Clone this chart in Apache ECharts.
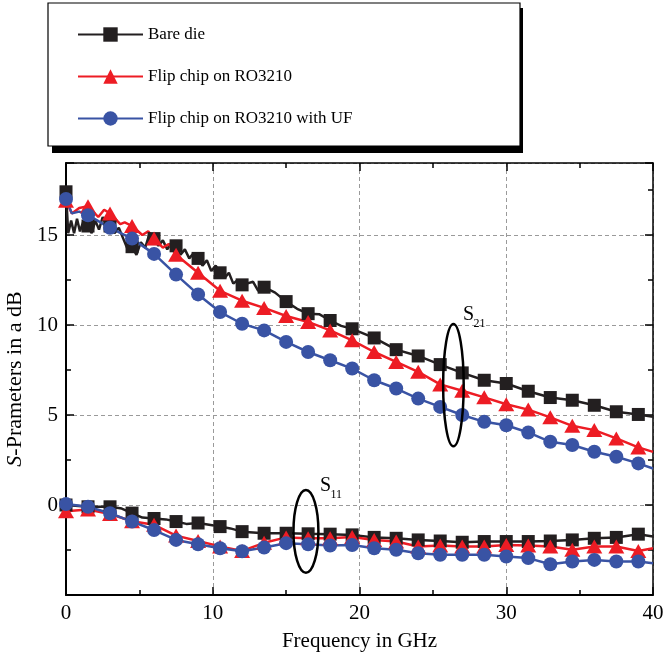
<!DOCTYPE html>
<html>
<head>
<meta charset="utf-8">
<script src="https://cdn.jsdelivr.net/npm/echarts@6/dist/echarts.min.js"></script>
<style>
  html, body { margin: 0; padding: 0; background: #fff; }
  #chart { width: 663px; height: 654px; }
</style>
</head>
<body>
<div id="chart"></div>
<script>
// S-parameter curves, markers every 1.5 GHz
var markerFreq = [0, 1.5, 3, 4.5, 6, 7.5, 9, 10.5, 12, 13.5, 15, 16.5, 18, 19.5, 21, 22.5, 24, 25.5, 27, 28.5, 30, 31.5, 33, 34.5, 36, 37.5, 39];

var bareS21 = [17.4, 15.5, 15.5, 14.35, 14.8, 14.4, 13.7, 12.9, 12.23, 12.1, 11.3, 10.63, 10.25, 9.79, 9.28, 8.63, 8.28, 7.8, 7.34, 6.93, 6.75, 6.32, 5.97, 5.82, 5.54, 5.18, 5.03];
var flipS21 = [16.9, 16.6, 16.2, 15.5, 14.8, 13.9, 12.9, 11.9, 11.35, 10.95, 10.5, 10.17, 9.7, 9.15, 8.5, 7.95, 7.4, 6.7, 6.35, 5.98, 5.6, 5.3, 4.87, 4.4, 4.16, 3.7, 3.2];
var ufS21 = [17.0, 16.1, 15.4, 14.8, 13.95, 12.8, 11.7, 10.72, 10.07, 9.7, 9.06, 8.5, 8.04, 7.58, 6.93, 6.47, 5.91, 5.45, 5.0, 4.62, 4.43, 4.03, 3.51, 3.33, 2.96, 2.68, 2.31];

var bareS11 = [0.0, -0.1, -0.1, -0.45, -0.75, -0.92, -1.0, -1.2, -1.48, -1.57, -1.57, -1.6, -1.62, -1.66, -1.8, -1.85, -1.94, -2.0, -2.07, -2.03, -2.03, -2.03, -2.0, -1.94, -1.85, -1.8, -1.62];
var flipS11 = [-0.35, -0.25, -0.5, -0.9, -1.1, -1.7, -2.0, -2.3, -2.55, -2.1, -1.8, -1.85, -1.85, -1.78, -1.94, -2.03, -2.31, -2.25, -2.31, -2.31, -2.22, -2.25, -2.31, -2.49, -2.31, -2.31, -2.55];
var ufS11 = [0.05, -0.1, -0.46, -0.92, -1.39, -1.94, -2.18, -2.4, -2.57, -2.36, -2.12, -2.18, -2.25, -2.22, -2.4, -2.49, -2.68, -2.77, -2.77, -2.77, -2.86, -2.95, -3.29, -3.14, -3.05, -3.14, -3.14];

// points between markers (ripple) and the 40 GHz end points, [GHz, dB]
var bareS21Extra = [[0.15, 15.1], [0.35, 15.8], [0.55, 15.1], [0.75, 15.9], [0.95, 15.2], [1.2, 15.8], [1.75, 15.1], [2.0, 15.8], [2.25, 15.3], [2.5, 16.0], [2.75, 15.5],
    [3.3, 15.1], [3.6, 15.4], [3.9, 14.8], [4.2, 14.2], [4.8, 13.9], [5.1, 14.6], [5.4, 14.3], [5.7, 15.1], [6.3, 14.4], [6.6, 14.7], [6.9, 14.2], [7.2, 14.6],
    [7.8, 13.9], [8.1, 14.2], [8.4, 13.7], [8.7, 14.0], [9.3, 13.3], [9.6, 13.6], [9.9, 13.0], [10.2, 13.3], [10.8, 12.6], [11.1, 12.9], [11.4, 12.3], [11.7, 12.5],
    [12.75, 12.4], [13.1, 11.9], [14.25, 11.8], [15.75, 10.9], [17.25, 10.6], [18.75, 9.95], [40, 4.9]];
var flipS21Extra = [[0.4, 16.2], [0.9, 16.5], [2.2, 16.0], [2.6, 16.4], [3.7, 15.6], [4.0, 15.7], [5.2, 15.0], [5.6, 15.2], [6.6, 14.3], [7.0, 14.5], [40, 2.95]];
var ufS21Extra = [[0.4, 16.2], [0.9, 16.3], [40, 2.03]];
var bareS11Extra = [[3.8, -0.2], [5.2, -0.7], [6.8, -0.8], [8.2, -1.05], [11.2, -1.3], [40, -1.75]];
var flipS11Extra = [[40, -2.4]];
var ufS11Extra = [[40, -3.23]];

var names = ['Bare die', 'Flip chip on RO3210', 'Flip chip on RO3210 with UF'];
var colors = ['#231f20', '#ed1c24', '#3953a4'];
var symbols = ['rect', 'triangle', 'circle'];
var symbolSizes = [13, [16, 14], 14];

var serif = '"Liberation Serif", "Times New Roman", serif';

function buildData(vals, extra) {
    var pts = markerFreq.map(function(f, i) { return [f, vals[i]]; }).concat(extra);
    pts.sort(function(a, b) { return a[0] - b[0]; });
    return pts;
}

function makeSeries(i, vals, extra) {
    return {
        name: names[i],
        type: 'line',
        data: buildData(vals, extra),
        symbol: symbols[i],
        symbolSize: function(v) { return markerFreq.indexOf(v[0]) >= 0 ? symbolSizes[i] : 0; },
        lineStyle: { color: colors[i], width: 2.5 },
        itemStyle: { color: colors[i] },
        emphasis: { disabled: true }
    };
}

var axisLine = { show: true, onZero: false, lineStyle: { color: '#000', width: 2 } };
var tickStyle = { color: '#000', width: 1.5 };
var gridLine = { show: true, lineStyle: { color: '#9a9a9a', width: 1, type: [4, 3] } };
var labelStyle = { fontFamily: serif, fontSize: 21, color: '#000' };

var chart = echarts.init(document.getElementById('chart'));

chart.setOption({
    animation: false,
    backgroundColor: '#fff',
    grid: { left: 66, right: 10, top: 163, bottom: 59, containLabel: false, outerBoundsMode: 'none' },
    legend: {
        orient: 'vertical',
        left: 77,
        top: 26,
        padding: 0,
        z: 10,
        itemWidth: 65,
        itemHeight: 18,
        itemGap: 25,
        selectedMode: false,
        textStyle: { fontFamily: serif, fontSize: 17, color: '#000' },
        data: names
    },
    xAxis: [{
        type: 'value', min: 0, max: 40, interval: 10, position: 'bottom',
        name: 'Frequency in GHz', nameLocation: 'middle', nameGap: 36,
        nameTextStyle: labelStyle,
        axisLine: axisLine,
        axisTick: { inside: true, length: 8, lineStyle: tickStyle },
        minorTick: { show: true, splitNumber: 2, length: 5, lineStyle: tickStyle },
        axisLabel: Object.assign({ margin: 8 }, labelStyle),
        splitLine: gridLine
    }, {
        type: 'value', min: 0, max: 40, interval: 10, position: 'top',
        axisLine: { show: true, onZero: false, lineStyle: { color: '#000', width: 1.5 } },
        axisTick: { inside: true, length: 8, lineStyle: tickStyle },
        minorTick: { show: true, splitNumber: 2, length: 5, lineStyle: tickStyle },
        axisLabel: { show: false },
        splitLine: { show: false }
    }],
    yAxis: [{
        type: 'value', min: -5, max: 19, interval: 5, position: 'left',
        name: '{i|S}-Prameters in a dB', nameLocation: 'middle', nameGap: 40,
        nameTextStyle: { fontFamily: serif, fontSize: 22, color: '#000',
            rich: { i: { fontFamily: serif, fontSize: 22, fontStyle: 'italic', color: '#000' } } },
        axisLine: axisLine,
        axisTick: { inside: true, length: 8, lineStyle: tickStyle },
        minorTick: { show: true, splitNumber: 2, length: 5, lineStyle: tickStyle },
        axisLabel: Object.assign({
            margin: 8,
            formatter: function(v) { return (v >= 0 && v % 5 === 0) ? String(v) : ''; }
        }, labelStyle),
        splitLine: gridLine
    }, {
        type: 'value', min: -5, max: 19, interval: 5, position: 'right',
        axisLine: { show: true, onZero: false, lineStyle: { color: '#000', width: 1.5 } },
        axisTick: { inside: true, length: 8, lineStyle: tickStyle },
        minorTick: { show: true, splitNumber: 2, length: 5, lineStyle: tickStyle },
        axisLabel: { show: false },
        splitLine: { show: false }
    }],
    series: [
        makeSeries(0, bareS21, bareS21Extra),
        makeSeries(0, bareS11, bareS11Extra),
        makeSeries(1, flipS21, flipS21Extra),
        makeSeries(1, flipS11, flipS11Extra),
        makeSeries(2, ufS21, ufS21Extra),
        makeSeries(2, ufS11, ufS11Extra)
    ]
});

// annotations: ellipses around the curve groups and their labels, in data units
var ellipses = [
    { c: [26.4, 6.66], r: [0.7, 3.4] },
    { c: [16.35, -1.47], r: [0.85, 2.3] }
];
var tags = [
    { at: [27.05, 11.13], sub: '21' },
    { at: [17.31, 1.62], sub: '11' }
];

function px(p) { return chart.convertToPixel({ xAxisIndex: 0, yAxisIndex: 0 }, p); }

var elements = [
    { type: 'rect', z: 0, shape: { x: 52, y: 8, width: 471, height: 145 }, style: { fill: '#000' } },
    { type: 'rect', z: 1, shape: { x: 48, y: 3, width: 472, height: 143 }, style: { fill: '#fff', stroke: '#000', lineWidth: 1.2 } }
];
ellipses.forEach(function(e) {
    var c = px(e.c);
    var edge = px([e.c[0] + e.r[0], e.c[1] + e.r[1]]);
    elements.push({
        type: 'ellipse', z: 20,
        shape: { cx: c[0], cy: c[1], rx: Math.abs(edge[0] - c[0]), ry: Math.abs(c[1] - edge[1]) },
        style: { fill: 'none', stroke: '#000', lineWidth: 2.5 }
    });
});
tags.forEach(function(t) {
    var p = px(t.at);
    elements.push({ type: 'text', z: 20, x: p[0], y: p[1],
        style: { text: 'S', fontFamily: serif, fontSize: 20, fill: '#000', verticalAlign: 'top' } });
    elements.push({ type: 'text', z: 20, x: p[0] + 10.5, y: p[1] + 13.5,
        style: { text: t.sub, fontFamily: serif, fontSize: 12, fill: '#000', verticalAlign: 'top' } });
});

chart.setOption({ graphic: { elements: elements } });
</script>
</body>
</html>
